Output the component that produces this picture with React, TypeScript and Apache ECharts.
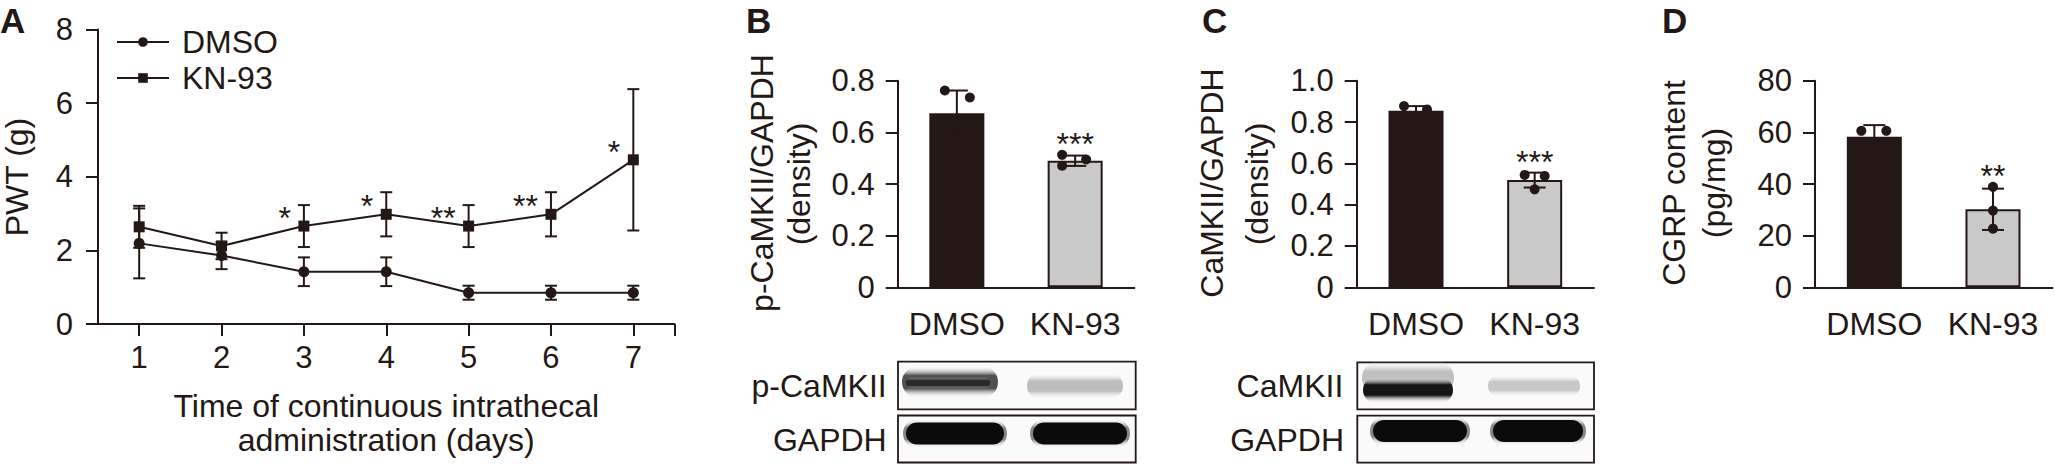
import React, { useEffect, useRef } from "react";
import * as echarts from "echarts";

const FONT = '"Liberation Sans", Arial, Helvetica, sans-serif';
const INK = "#231815";
const GREY = "#c9c9c9";

// ---- Panel A: paw withdrawal threshold over days ----
const days = [1, 2, 3, 4, 5, 6, 7];
const pwtDmso = [2.19, 1.86, 1.42, 1.42, 0.85, 0.85, 0.85];
const pwtDmsoErr = [0.95, 0.37, 0.39, 0.39, 0.19, 0.19, 0.19];
const pwtKn = [2.64, 2.12, 2.66, 2.98, 2.66, 2.98, 4.46];
const pwtKnErr = [0.57, 0.36, 0.57, 0.6, 0.57, 0.6, 1.92];
const pwtSig = ["", "", "*", "*", "**", "**", "*"];

// ---- Panels B-D ----
const groups = ["DMSO", "KN-93"];
const pCamkiiMean = [0.674, 0.49];
const pCamkiiErr = [0.088, 0.02];
const pCamkiiPoints = [
  [0.762, 0.735, 0.525],
  [0.513, 0.471, 0.495],
];
const pCamkiiSig = ["", "***"];

const camkiiMean = [0.855, 0.519];
const camkiiErr = [0.022, 0.036];
const camkiiPoints = [
  [0.877, 0.861, 0.827],
  [0.544, 0.539, 0.474],
];
const camkiiSig = ["", "***"];

const cgrpMean = [58.3, 30.2];
const cgrpErr = [4.5, 8.0];
const cgrpPoints = [
  [60.6, 60.6, 53.7],
  [38.9, 29.7, 22.7],
];
const cgrpSig = ["", "**"];

// layout-only horizontal jitter of the dots (px)
const JITTER = [
  [[-12, 13, 0], [-13, -13, 11]],
  [[-12, 11, 0], [-10, 10, 0]],
  [[-13, 12, 0], [0, 0, 0]],
];

const txt = (extra: any) => ({ fill: INK, fontFamily: FONT, fontSize: 32, ...extra });

function errorBar(capHalf: number, lw: number) {
  return (params: any, api: any) => {
    const x = api.value(0);
    const m = api.value(1);
    const e = api.value(2);
    const top = api.coord([x, m + e]);
    const bot = api.coord([x, m - e]);
    const style = { stroke: INK, lineWidth: lw, fill: "none" };
    return {
      type: "group",
      children: [
        { type: "line", shape: { x1: top[0], y1: top[1], x2: bot[0], y2: bot[1] }, style },
        { type: "line", shape: { x1: top[0] - capHalf, y1: top[1], x2: top[0] + capHalf, y2: top[1] }, style },
        { type: "line", shape: { x1: bot[0] - capHalf, y1: bot[1], x2: bot[0] + capHalf, y2: bot[1] }, style },
      ],
    };
  };
}

function sigText(labels: string[], dx: number, dy: number, align: string) {
  return (params: any, api: any) => {
    const s = labels[params.dataIndex];
    if (!s) return { type: "group", children: [] };
    const p = api.coord([api.value(0), api.value(1)]);
    return {
      type: "text",
      x: p[0] + dx,
      y: p[1] + dy,
      style: txt({ text: s, align, verticalAlign: "middle" }),
    };
  };
}

function dots(jit: number[][]) {
  return (params: any, api: any) => {
    const p = api.coord([api.value(0), api.value(1)]);
    const j = jit[api.value(0)][api.value(2)];
    return { type: "circle", shape: { cx: p[0] + j, cy: p[1], r: 5 }, style: { fill: INK } };
  };
}

const fmt1 = (v: number) => (v === 0 ? "0" : v.toFixed(1));

function barPanel(k: number, mean: number[], err: number[], pts: number[][], sig: string[]) {
  const base = { xAxisIndex: k, yAxisIndex: k };
  const dotData: number[][] = [];
  pts.forEach((arr, g) => arr.forEach((v, i) => dotData.push([g, v, i])));
  const sigAnchor = mean.map((m, g) => [g, Math.max(m + err[g], ...pts[g])]);
  return [
    {
      ...base,
      type: "bar",
      barWidth: 55,
      z: 2,
      data: mean.map((v, i) => ({
        value: v,
        itemStyle: { color: i === 0 ? INK : GREY, borderColor: INK, borderWidth: i === 0 ? 0 : 2 },
      })),
    },
    {
      ...base,
      type: "custom",
      z: 3,
      renderItem: errorBar(11, 2),
      data: mean.map((m, g) => [g, m, err[g]]),
    },
    { ...base, type: "custom", z: 4, renderItem: dots(JITTER[k - 1]), data: dotData },
    { ...base, type: "custom", z: 4, renderItem: sigText(sig, 0, -11, "center"), data: sigAnchor },
  ];
}

function catAxis(k: number) {
  return {
    type: "category",
    gridIndex: k,
    data: groups,
    boundaryGap: true,
    axisLine: { lineStyle: { color: INK, width: 2 } },
    axisTick: { length: 12, interval: 0, lineStyle: { color: INK, width: 2 } },
    axisLabel: { color: INK, fontFamily: FONT, fontSize: 32, margin: 21, interval: 0 },
    splitLine: { show: false },
  };
}

function valAxis(k: number, max: number, interval: number, formatter?: any) {
  return {
    type: "value",
    gridIndex: k,
    min: 0,
    max,
    interval,
    axisLine: { show: true, lineStyle: { color: INK, width: 2 } },
    axisTick: { show: true, length: 12, lineStyle: { color: INK, width: 2 } },
    axisLabel: { color: INK, fontFamily: FONT, fontSize: 31, margin: 23, formatter },
    splitLine: { show: false },
  };
}

// soft band: rounded rect with a vertical fade at top and bottom
function softBar(cx: number, cy: number, w: number, h: number, color: string) {
  return {
    type: "rect",
    shape: { x: cx - w / 2, y: cy - h / 2, width: w, height: h, r: h / 2 },
    style: {
      fill: {
        type: "linear",
        x: 0,
        y: 0,
        x2: 0,
        y2: 1,
        colorStops: [
          { offset: 0, color: "rgba(255,255,255,0)" },
          { offset: 0.3, color },
          { offset: 0.7, color },
          { offset: 1, color: "rgba(255,255,255,0)" },
        ],
      },
    },
    z: 5,
  };
}

// crisp dark band with rounded ends
function solidBand(cx: number, cy: number, w: number, h: number) {
  return {
    type: "rect",
    shape: { x: cx - w / 2, y: cy - h / 2, width: w, height: h, r: h / 2 },
    style: { fill: "#0b0b0b" },
    z: 6,
  };
}

function blotBox(x: number, y: number, w: number, h: number) {
  return {
    type: "rect",
    shape: { x, y, width: w, height: h },
    style: { fill: "#fafafa", stroke: INK, lineWidth: 1.8 },
    z: 4,
  };
}

function label(text: string, x: number, y: number, extra: any = {}) {
  return { type: "text", x, y, z: 7, style: txt({ text, ...extra }) };
}

function vlabel(text: string, x: number, y: number) {
  return {
    type: "text",
    x,
    y,
    rotation: Math.PI / 2,
    z: 7,
    style: txt({ text, align: "center", verticalAlign: "middle" }),
  };
}

export default function App() {
  const ref = useRef<HTMLDivElement>(null);
  useEffect(() => {
    if (!ref.current) return;
    const chart = echarts.init(ref.current, undefined, { renderer: "svg" });
    const option: any = {
      animation: false,
      backgroundColor: "#ffffff",
      textStyle: { fontFamily: FONT, color: INK },
      grid: [
        { left: 98, top: 29.5, width: 576.5, height: 294.5 },
        { left: 897.7, top: 80.7, width: 236.6, height: 206.6 },
        { left: 1356.7, top: 80.7, width: 237.3, height: 206.6 },
        { left: 1815, top: 80.7, width: 237.3, height: 206.6 },
      ],
      legend: {
        data: ["DMSO", "KN-93"],
        orient: "vertical",
        left: 116,
        top: 26,
        padding: 0,
        itemWidth: 52,
        itemHeight: 12,
        itemGap: 4,
        textStyle: { color: INK, fontFamily: FONT, fontSize: 32, padding: [0, 0, 0, 8] },
      },
      xAxis: [
        {
          type: "value",
          gridIndex: 0,
          min: 0.5,
          max: 7.5,
          axisLine: { lineStyle: { color: INK, width: 2 } },
          axisTick: { show: true, length: 12, customValues: [...days, 7.5], lineStyle: { color: INK, width: 2 } },
          axisLabel: { color: INK, fontFamily: FONT, fontSize: 31, margin: 18, customValues: days },
          splitLine: { show: false },
          name: "Time of continuous intrathecal\nadministration (days)",
          nameLocation: "middle",
          nameGap: 65,
          nameTextStyle: { color: INK, fontFamily: FONT, fontSize: 32, lineHeight: 34 },
        },
        catAxis(1),
        catAxis(2),
        catAxis(3),
      ],
      yAxis: [
        { ...valAxis(0, 8, 2), axisLabel: { color: INK, fontFamily: FONT, fontSize: 31, margin: 25 } },
        valAxis(1, 0.8, 0.2, fmt1),
        valAxis(2, 1.0, 0.2, fmt1),
        valAxis(3, 80, 20),
      ],
      series: [
        {
          type: "custom",
          xAxisIndex: 0,
          yAxisIndex: 0,
          z: 1,
          renderItem: errorBar(6, 2),
          data: days.map((d, i) => [d, pwtDmso[i], pwtDmsoErr[i]]),
        },
        {
          type: "custom",
          xAxisIndex: 0,
          yAxisIndex: 0,
          z: 1,
          renderItem: errorBar(6, 2),
          data: days.map((d, i) => [d, pwtKn[i], pwtKnErr[i]]),
        },
        {
          name: "DMSO",
          type: "line",
          xAxisIndex: 0,
          yAxisIndex: 0,
          z: 3,
          symbol: "circle",
          symbolSize: 11,
          lineStyle: { color: INK, width: 2 },
          itemStyle: { color: INK },
          data: days.map((d, i) => [d, pwtDmso[i]]),
        },
        {
          name: "KN-93",
          type: "line",
          xAxisIndex: 0,
          yAxisIndex: 0,
          z: 3,
          symbol: "rect",
          symbolSize: 11,
          lineStyle: { color: INK, width: 2 },
          itemStyle: { color: INK },
          data: days.map((d, i) => [d, pwtKn[i]]),
        },
        {
          type: "custom",
          xAxisIndex: 0,
          yAxisIndex: 0,
          z: 4,
          renderItem: sigText(pwtSig, -13, -8, "right"),
          data: days.map((d, i) => [d, pwtKn[i]]),
        },
        ...barPanel(1, pCamkiiMean, pCamkiiErr, pCamkiiPoints, pCamkiiSig),
        ...barPanel(2, camkiiMean, camkiiErr, camkiiPoints, camkiiSig),
        ...barPanel(3, cgrpMean, cgrpErr, cgrpPoints, cgrpSig),
      ],
      graphic: [
        // panel letters
        label("A", 0, 3, { fontWeight: "bold", fontSize: 35, verticalAlign: "top" }),
        label("B", 746, 3, { fontWeight: "bold", fontSize: 35, verticalAlign: "top" }),
        label("C", 1202, 3, { fontWeight: "bold", fontSize: 35, verticalAlign: "top" }),
        label("D", 1662, 3, { fontWeight: "bold", fontSize: 35, verticalAlign: "top" }),
        // y titles
        vlabel("PWT (g)", 17, 177),
        vlabel("p-CaMKII/GAPDH", 762, 183),
        vlabel("(density)", 799, 184),
        vlabel("CaMKII/GAPDH", 1212, 183),
        vlabel("(density)", 1257, 184),
        vlabel("CGRP content", 1674, 183),
        vlabel("(pg/mg)", 1714, 183),
        // western blots, panel B
        blotBox(898, 361.7, 237.7, 47.6),
        blotBox(898, 415.5, 237.7, 47),
        softBar(950, 382, 96, 32, "rgba(50,50,50,0.85)"),
        softBar(948, 383, 84, 12, "rgba(15,15,15,0.6)"),
        softBar(1075, 386, 96, 26, "rgba(140,140,140,0.55)"),
        softBar(955, 433.5, 104, 30, "rgba(20,20,20,0.5)"),
        softBar(1080, 433.5, 100, 30, "rgba(20,20,20,0.5)"),
        solidBand(955, 433.5, 98, 22),
        solidBand(1080, 433.5, 94, 22),
        label("p-CaMKII", 886.7, 386, { align: "right", verticalAlign: "middle" }),
        label("GAPDH", 886.7, 440, { align: "right", verticalAlign: "middle" }),
        // western blots, panel C
        blotBox(1357.3, 362.3, 236.7, 47),
        blotBox(1357.3, 415.7, 236.7, 47),
        softBar(1408, 378, 92, 34, "rgba(120,120,120,0.45)"),
        softBar(1408, 390, 90, 26, "rgba(10,10,10,0.95)"),
        softBar(1534, 386, 92, 22, "rgba(150,150,150,0.5)"),
        softBar(1420, 431, 100, 30, "rgba(20,20,20,0.5)"),
        softBar(1538, 431, 96, 30, "rgba(20,20,20,0.5)"),
        solidBand(1420, 431, 94, 22),
        solidBand(1538, 431, 90, 22),
        label("CaMKII", 1343.3, 386, { align: "right", verticalAlign: "middle" }),
        label("GAPDH", 1344, 440, { align: "right", verticalAlign: "middle" }),
      ],
    };
    chart.setOption(option);
    return () => chart.dispose();
  }, []);
  return (
    <div
      ref={ref}
      style={{ position: "fixed", left: 0, top: 0, width: 2054, height: 464, background: "#fff" }}
    />
  );
}
